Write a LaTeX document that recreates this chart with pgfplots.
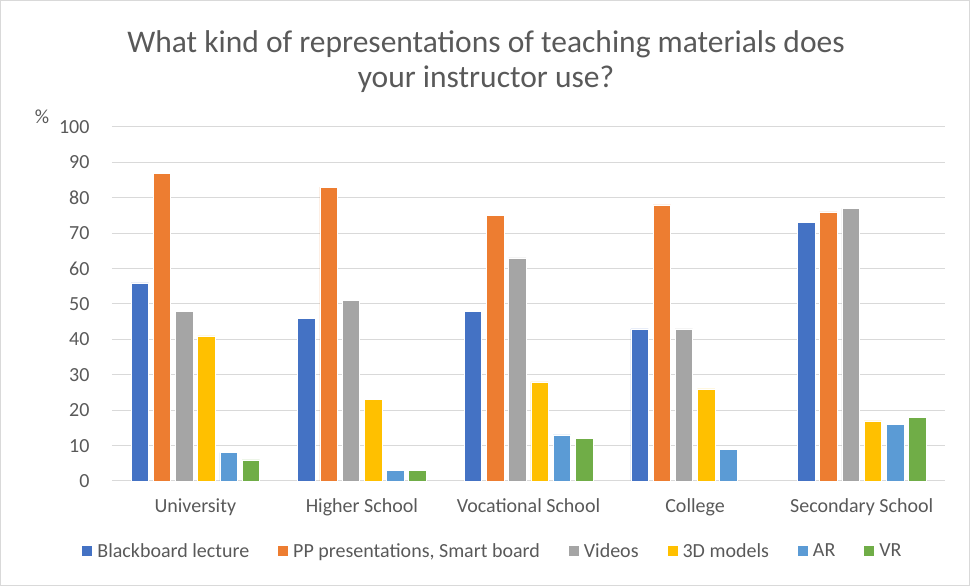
\documentclass[border=0pt]{standalone}
\usepackage{fontspec}
\setmainfont{Carlito}
\usepackage{pgfplots}
\pgfplotsset{compat=1.18}
\definecolor{cBlue}{HTML}{4472C4}
\definecolor{cOrange}{HTML}{ED7D31}
\definecolor{cGray}{HTML}{A5A5A5}
\definecolor{cYellow}{HTML}{FFC000}
\definecolor{cAR}{HTML}{5B9BD5}
\definecolor{cVR}{HTML}{70AD47}
\definecolor{txt}{HTML}{595959}
\definecolor{grid}{HTML}{D9D9D9}
\begin{document}
\begin{tikzpicture}[x=1pt,y=1pt]
\path[use as bounding box] (0,0) rectangle (970,586);
\draw[color=grid, line width=1pt] (0.5,0.5) rectangle (969.5,585.5);
\node[font=\fontsize{31.5}{35}\selectfont, text=txt, align=center] at (486,524) {What kind of representations of teaching materials does\\your instructor use?};
\node[font=\fontsize{20}{22}\selectfont, text=txt] at (42,469) {\%};
\begin{axis}[
  at={(112pt,105pt)}, anchor=south west,
  width=833pt, height=354pt, scale only axis,
  ymin=0, ymax=100, ytick={0,10,...,100},
  xmin=-0.5, xmax=4.5, xtick={0,...,4},
  xticklabels={University,Higher School,Vocational School,College,Secondary School},
  ybar=4.7pt, bar width=17.5pt,
  axis line style={draw=none},
  ymajorgrids, grid style={color=grid, line width=1pt},
  major tick length=0,
  tick label style={font=\fontsize{20}{22}\selectfont, text=txt},
  xticklabel style={yshift=-14pt},
  yticklabel style={xshift=-19pt},
  /pgf/number format/assume math mode=true,
  legend style={at={(0.4574,-0.1977)}, anchor=center, draw=none, fill=none,
    font=\fontsize{20}{22}\selectfont, text=txt, legend columns=-1,
    /tikz/every odd column/.append style={column sep=3pt},
    /tikz/every even column/.append style={column sep=27pt}},
  legend image code/.code={\path[#1,draw=none] (0pt,-5pt) rectangle (10pt,5pt);},
]
\addplot[fill=cBlue, draw=white, line width=0.5pt] coordinates {(0,56) (1,46) (2,48) (3,43) (4,73)};
\addplot[fill=cOrange, draw=white, line width=0.5pt] coordinates {(0,87) (1,83) (2,75) (3,78) (4,76)};
\addplot[fill=cGray, draw=white, line width=0.5pt] coordinates {(0,48) (1,51) (2,63) (3,43) (4,77)};
\addplot[fill=cYellow, draw=white, line width=0.5pt] coordinates {(0,41) (1,23) (2,28) (3,26) (4,17)};
\addplot[fill=cAR, draw=white, line width=0.5pt] coordinates {(0,8) (1,3) (2,13) (3,9) (4,16)};
\addplot[fill=cVR, draw=white, line width=0.5pt] coordinates {(0,6) (1,3) (2,12) (4,18)};
\legend{Blackboard lecture, {PP presentations, Smart board}, Videos, 3D models, AR, VR}
\end{axis}
\end{tikzpicture}
\end{document}
